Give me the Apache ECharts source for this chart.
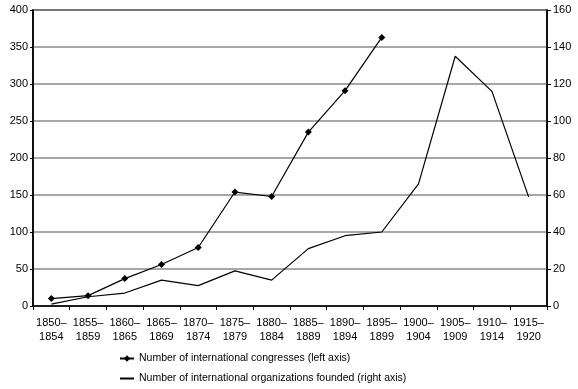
<!DOCTYPE html>
<html><head><meta charset="utf-8">
<script src="https://cdn.jsdelivr.net/npm/echarts@6/dist/echarts.min.js"></script>
<style>html,body{margin:0;padding:0;background:#fff}#c{width:578px;height:389px}</style>
</head><body><div id="c"></div>
<script>
const categories = ['1850–\n1854','1855–\n1859','1860–\n1865','1865–\n1869','1870–\n1874','1875–\n1879','1880–\n1884','1885–\n1889','1890–\n1894','1895–\n1899','1900–\n1904','1905–\n1909','1910–\n1914','1915–\n1920'];
const congresses = [10, 14, 37, 56, 79, 154, 148, 235, 291, 363, null, null, null, null];
const organizations = [1, 5, 7, 14, 11, 19, 14, 31, 38, 40, 66, 135, 116, 59];
const leftTicks = {min: 0, max: 400, interval: 50};
const rightTicks = {min: 0, max: 160, interval: 20};
const nameCongresses = 'Number of international congresses (left axis)';
const nameOrganizations = 'Number of international organizations founded (right axis)';

const font = 'Liberation Sans, Arial, sans-serif';
const legendBase = {
  orient: 'horizontal', left: 119, padding: 0, itemWidth: 14, itemHeight: 8,
  textStyle: {color: '#000', fontFamily: font, fontSize: 10.5}
};
const chart = echarts.init(document.getElementById('c'), null, {renderer: 'canvas'});
chart.setOption({
  animation: false,
  backgroundColor: '#fff',
  grid: {left: 33, right: 31, top: 10, bottom: 83, show: true, borderColor: '#000', borderWidth: 1.5},
  xAxis: {
    type: 'category', data: categories, boundaryGap: true,
    axisLine: {lineStyle: {color: '#000', width: 1.5}},
    axisTick: {show: true, inside: false, length: 4, lineStyle: {color: '#000'}},
    axisLabel: {color: '#000', fontFamily: font, fontSize: 11, lineHeight: 14, margin: 10, interval: 0}
  },
  yAxis: [{
    type: 'value', min: leftTicks.min, max: leftTicks.max, interval: leftTicks.interval,
    axisLine: {show: true, lineStyle: {color: '#000', width: 1.5}},
    axisTick: {show: true, length: 3, lineStyle: {color: '#000'}},
    axisLabel: {color: '#000', fontFamily: font, fontSize: 11, margin: 5},
    splitLine: {show: true, lineStyle: {color: '#8a8a8a', width: 1.5}}
  }, {
    type: 'value', min: rightTicks.min, max: rightTicks.max, interval: rightTicks.interval,
    position: 'right',
    axisLine: {show: true, lineStyle: {color: '#000', width: 1.5}},
    axisTick: {show: true, length: 4, lineStyle: {color: '#000'}},
    axisLabel: {color: '#000', fontFamily: font, fontSize: 11, margin: 6},
    splitLine: {show: false}
  }],
  legend: [
    Object.assign({}, legendBase, {top: 353, data: [{name: nameCongresses}]}),
    Object.assign({}, legendBase, {top: 373, data: [{name: nameOrganizations, itemStyle: {opacity: 0}}]})
  ],
  series: [{
    name: nameCongresses,
    type: 'line', yAxisIndex: 0, data: congresses,
    symbol: 'diamond', symbolSize: 7, showSymbol: true,
    lineStyle: {color: '#000', width: 1.2}, itemStyle: {color: '#000'}, connectNulls: false
  }, {
    name: nameOrganizations,
    type: 'line', yAxisIndex: 1, data: organizations,
    symbol: 'none',
    lineStyle: {color: '#000', width: 1.2}, itemStyle: {color: '#000'}
  }]
});
</script></body></html>
